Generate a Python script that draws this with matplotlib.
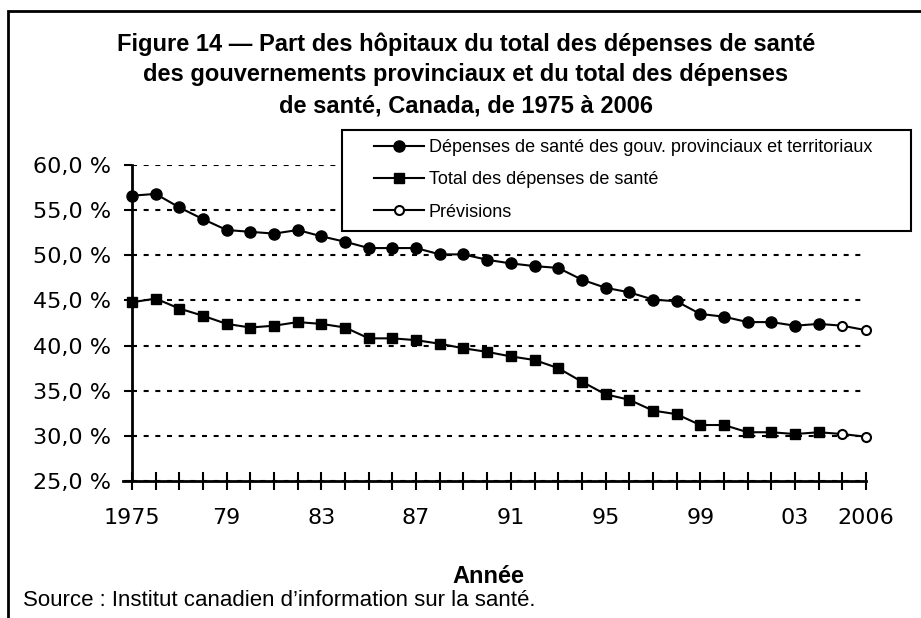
import matplotlib
matplotlib.use('Agg')
import matplotlib.pyplot as plt
from matplotlib.patches import Rectangle
from matplotlib.ticker import FixedLocator

# data (%)
years = list(range(1975, 2005))
prov_share = [56.6, 56.8, 55.3, 54.0, 52.8, 52.6, 52.4, 52.8, 52.1, 51.5,
              50.8, 50.8, 50.8, 50.1, 50.1, 49.5, 49.1, 48.8, 48.6, 47.3,
              46.4, 45.9, 45.1, 44.9, 43.5, 43.2, 42.6, 42.6, 42.2, 42.4]
total_share = [44.8, 45.2, 44.1, 43.3, 42.4, 42.0, 42.2, 42.6, 42.4, 42.0,
               40.8, 40.8, 40.6, 40.2, 39.7, 39.3, 38.8, 38.4, 37.5, 36.0,
               34.6, 34.0, 32.8, 32.4, 31.2, 31.2, 30.4, 30.4, 30.2, 30.4]
fc_years = [2004, 2005, 2006]
prov_fc = [42.4, 42.2, 41.7]
total_fc = [30.4, 30.2, 29.9]

label_years = [1975, 1979, 1983, 1987, 1991, 1995, 1999, 2003, 2006]
label_text = ['1975', '79', '83', '87', '91', '95', '99', '03', '2006']
y_ticks = [25, 30, 35, 40, 45, 50, 55, 60]

title_lines = ['Figure 14 — Part des hôpitaux du total des dépenses de santé',
               'des gouvernements provinciaux et du total des dépenses',
               'de santé, Canada, de 1975 à 2006']

plt.rcParams['font.family'] = ['Liberation Sans', 'DejaVu Sans']

fig = plt.figure(figsize=(9.21, 6.18), dpi=100)
ax = fig.add_axes([0.1433, 0.2217, 0.797, 0.5113])

ax.plot(years, prov_share, color='black', lw=1.5, marker='o', ms=8, clip_on=False, zorder=3,
        label='Dépenses de santé des gouv. provinciaux et territoriaux')
ax.plot(years, total_share, color='black', lw=1.5, marker='s', ms=7.5, clip_on=False, zorder=3,
        label='Total des dépenses de santé')
ax.plot(fc_years, prov_fc, color='black', lw=1.5, marker='o', ms=6.5, mfc='white', mew=1.5,
        markevery=[1, 2], clip_on=False, zorder=3, label='Prévisions')
ax.plot(fc_years, total_fc, color='black', lw=1.5, marker='o', ms=6.5, mfc='white', mew=1.5,
        markevery=[1, 2], clip_on=False, zorder=3)

ax.set_xlim(1975, 2006)
ax.set_ylim(25, 60)
ax.set_yticks(y_ticks)
ax.set_yticklabels([f'{v},0 %' for v in y_ticks], fontsize=16, family='DejaVu Sans')
ax.set_xticks(label_years)
ax.set_xticklabels(label_text, fontsize=16, family='DejaVu Sans')
ax.xaxis.set_minor_locator(FixedLocator(range(1975, 2007)))
ax.tick_params(axis='x', which='both', direction='inout', length=13, width=1.5, pad=13)
ax.tick_params(axis='y', direction='out', length=6, width=1.5, pad=9)

ax.grid(axis='y', linestyle=(0, (2.4, 3.2)), color='black', lw=1.5)
for side in ['top', 'right']:
    ax.spines[side].set_visible(False)
for side in ['left', 'bottom']:
    ax.spines[side].set_linewidth(2)
ax.spines['bottom'].set_bounds(1974.62, 2006)

ax.set_xlabel('Année', fontsize=17, fontweight='bold')
ax.xaxis.set_label_coords(0.485, -0.265)

# legend box drawn by hand (padding wider on the sides than on top)
box = Rectangle((0.3713, 0.6262), 0.6178, 0.1634, transform=fig.transFigure,
                facecolor='white', edgecolor='black', lw=1.5, zorder=4, clip_on=False)
ax.add_patch(box)
leg = ax.legend(loc='upper left', bbox_to_anchor=(0.406, 1 - 139 / 618),
                bbox_transform=fig.transFigure, fontsize=13, frameon=False,
                handlelength=2.8, borderpad=0, borderaxespad=0,
                labelspacing=0.85, handletextpad=0.25)
leg.set_zorder(5)

for i, line in enumerate(title_lines):
    fig.text(0.506, 1 - (44 + 31 * i) / 618, line, ha='center', va='center',
             fontsize=17, fontweight='bold')

fig.text(0.025, 1 - 601 / 618, 'Source : Institut canadien d\u2019information sur la santé.',
         fontsize=16, va='center')

fig.patches.append(Rectangle((0.0087, -0.1), 1.2, 1.082, transform=fig.transFigure,
                             fill=False, edgecolor='black', lw=2))

fig.savefig('out.png', dpi=100)
